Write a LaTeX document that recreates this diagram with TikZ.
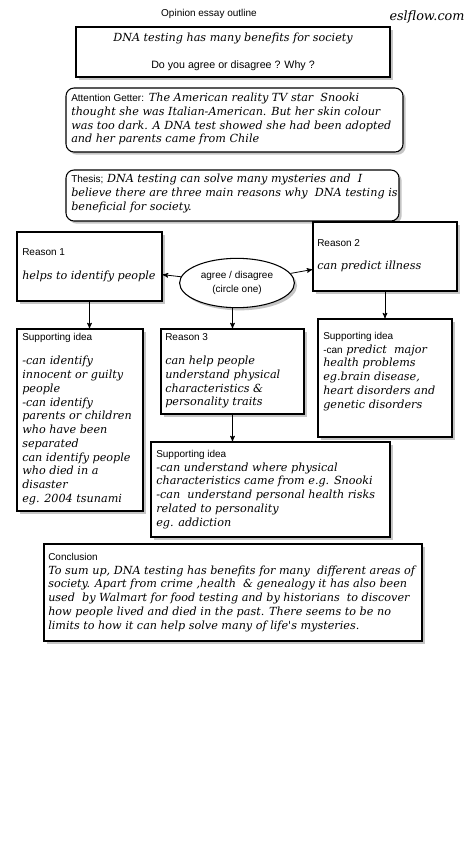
\documentclass[tikz,border=0pt]{standalone}
\usepackage{fontspec}
\setmainfont{Liberation Sans}
\newfontfamily\handfamily{DejaVu Serif}
\usetikzlibrary{arrows,fit,shapes.geometric,shadows}
\newcommand{\hand}{\handfamily\itshape\fontsize{8.4}{10.3}\selectfont}
\newcommand{\lab}{\normalfont\fontsize{7.5}{10.3}\selectfont}

\tikzset{
  box/.style={draw, line width=0.8pt, inner sep=0pt, fill=white,
    drop shadow={shadow xshift=2pt, shadow yshift=-2pt, fill=black!45}},
  roundbox/.style={box, rounded corners=6pt},
  txt/.style={anchor=north west, inner sep=0pt, align=left, font=\hand},
  arr/.style={->, line width=0.6pt},
}

\begin{document}
\begin{tikzpicture}[>=stealth', x=0.75pt, y=-0.75pt]
        \useasboundingbox[fill=white] (0,0) rectangle (474,844);

        \node[font=\lab] (title) at (209,14) {Opinion essay outline};
        \node[font=\hand\fontsize{9.6}{11}\selectfont] (site) at (427,17) {eslflow.com};

        % topic
        \node[box, fit={(76,27) (390,77)}] (topic) {};
        \node[font=\hand] (topicA) at (233,38) {DNA testing has many benefits for society};
        \node[font=\lab\fontsize{8}{10}\selectfont] (topicB) at (233,66) {Do you agree or disagree ? Why ?};

        % attention getter and thesis
        \node[roundbox, fit={(66,88) (403,152)}] (hook) {};
        \node[txt] (hooktxt) at (71,93) {{\lab Attention Getter:} The American reality TV star \ Snooki\\
        thought she was Italian-American. But her skin colour\\
        was too dark. A DNA test showed she had been adopted\\
        and her parents came from Chile};
        \node[roundbox, fit={(66,170) (399,221)}] (thesis) {};
        \node[txt] (thesistxt) at (71,174) {{\lab Thesis;} DNA testing can solve many mysteries and \ I\\
        believe there are three main reasons why \ DNA testing is\\
        beneficial for society.};

        % reasons
        \node[box, fit={(17,232) (162,301)}] (reason1) {};
        \node[txt] (reason1txt) at (22,248) {{\lab Reason 1}\\[8pt] helps to identify people};
        \node[box, fit={(313,222) (457,291)}] (reason2) {};
        \node[txt] (reason2txt) at (317,239) {{\lab Reason 2}\\[7.5pt] can predict illness};
        \node[ellipse, draw, line width=0.8pt, fill=white, minimum width=85.5pt, minimum height=37pt,
          align=center, font=\lab, drop shadow={shadow xshift=2pt, shadow yshift=-2pt, fill=black!45}]
          (choice) at (237,283) {agree / disagree\\(circle one)};
        \node[box, fit={(161,329) (304,414)}] (reason3) {};
        \node[txt] (reason3txt) at (165,333) {{\lab Reason 3}\\[8pt] can help people\\
        understand physical\\
        characteristics \&\\
        personality traits};

        % supporting ideas
        \node[box, fit={(17,329) (143,511)}] (support1) {};
        \node[txt] (support1txt) at (22,333) {{\lab Supporting idea}\\[8pt] -can identify\\
        innocent or guilty\\
        people\\
        -can identify\\
        parents or children\\
        who have been\\
        separated\\
        can identify people\\
        who died in a\\
        disaster\\
        eg. 2004 tsunami};
        \node[box, fit={(318,319) (452,437)}] (support2) {};
        \node[txt] (support2txt) at (323,332) {{\lab Supporting idea}\\
        {\lab -can} predict \ major\\
        health problems\\
        eg.brain disease,\\
        heart disorders and\\
        genetic disorders};
        \node[box, fit={(151,442) (390,537)}] (support3) {};
        \node[txt] (support3txt) at (156,450) {{\lab Supporting idea}\\
        -can understand where physical\\
        characteristics came from e.g. Snooki\\
        -can \ understand personal health risks\\
        related to personality\\
        eg. addiction};

        % conclusion
        \node[box, fit={(44,544) (422,641)}] (conclusion) {};
        \node[txt] (conclusiontxt) at (48,553) {{\lab Conclusion}\\
        To sum up, DNA testing has benefits for many \ different areas of\\
        society. Apart from crime ,health \ \& genealogy it has also been\\
        used \ by Walmart for food testing and by historians \ to discover\\
        how people lived and died in the past. There seems to be no\\
        limits to how it can help solve many of life's mysteries.};

        \draw[arr] (choice) -- (reason1);
        \draw[arr] (choice) -- (reason2);
        \draw[arr] (reason1.south) -- (reason1.south |- support1.north);
        \draw[arr] (reason3.north |- choice.south) -- (reason3.north);
        \draw[arr] (reason2.south) -- (reason2.south |- support2.north);
        \draw[arr] (reason3.south) -- (reason3.south |- support3.north);
\end{tikzpicture}
\end{document}
